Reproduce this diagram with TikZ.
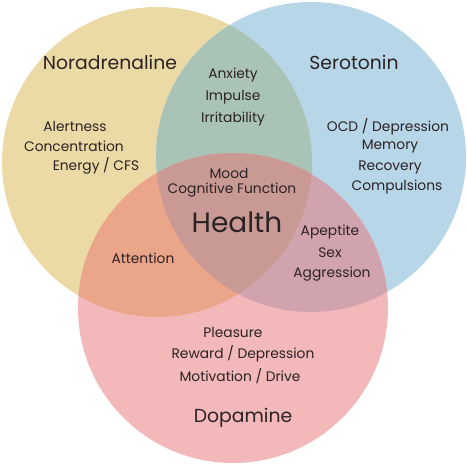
\documentclass[tikz,border=0pt]{standalone}
\usepackage{fontspec}
\setmainfont{Poppins}
\definecolor{cyel}{HTML}{EBDAA6}
\definecolor{cblu}{HTML}{B7D6E8}
\definecolor{cpnk}{HTML}{F2B8BA}
\definecolor{cgrn}{HTML}{A9C3B6}
\definecolor{corg}{HTML}{EBA68A}
\definecolor{cmau}{HTML}{D1A3AE}
\definecolor{cctr}{HTML}{C99A94}
\definecolor{ctxt}{HTML}{2B2224}
\tikzset{
  lbl/.style={text=ctxt, inner sep=0pt, font=\fontsize{13.8}{15}\selectfont},
  ttl/.style={text=ctxt, inner sep=0pt, font=\fontsize{18.8}{20}\selectfont},
}
\begin{document}
\begin{tikzpicture}[x=1pt,y=-1pt]
\useasboundingbox (0,0) rectangle (467,464);
\coordinate (L) at (157,162);
\coordinate (R) at (311,157);
\coordinate (B) at (233,308);
\def\rr{155}
\fill[cyel] (L) circle[radius=\rr];
\fill[cblu] (R) circle[radius=\rr];
\fill[cpnk] (B) circle[radius=\rr];
\begin{scope}
  \clip (L) circle[radius=\rr];
  \fill[cgrn] (R) circle[radius=\rr];
  \fill[corg] (B) circle[radius=\rr];
\end{scope}
\begin{scope}
  \clip (R) circle[radius=\rr];
  \fill[cmau] (B) circle[radius=\rr];
  \clip (L) circle[radius=\rr];
  \fill[cctr] (B) circle[radius=\rr];
\end{scope}

\node[ttl] (nor) at (110,62) {Noradrenaline};
\node[ttl] (ser) at (354,62) {Serotonin};
\node[ttl] (dop) at (243,418) {Dopamine};
\node[text=ctxt, inner sep=0pt, font=\fontsize{28}{30}\selectfont] (hea) at (237,222) {Health};

\node[lbl] (anx) at (233,75) {Anxiety};
\node[lbl] (imp) at (233,97) {Impulse};
\node[lbl] (irr) at (233,119) {Irritability};

\node[lbl] (ale) at (75,126) {Alertness};
\node[lbl] (con) at (74,146) {Concentration};
\node[lbl] (ene) at (96,166) {Energy / CFS};

\node[lbl] (ocd) at (388,127) {OCD / Depression};
\node[lbl] (mem) at (390,147) {Memory};
\node[lbl] (rec) at (390,167) {Recovery};
\node[lbl] (com) at (397,187) {Compulsions};

\node[lbl] (moo) at (229,173) {Mood};
\node[lbl] (cog) at (232,190) {Cognitive Function};

\node[lbl] (att) at (143,258) {Attention};

\node[lbl] (ape) at (330,232) {Apeptite};
\node[lbl] (sex) at (330,253) {Sex};
\node[lbl] (agg) at (332,274) {Aggression};

\node[lbl] (ple) at (233,332) {Pleasure};
\node[lbl] (rew) at (243,354) {Reward / Depression};
\node[lbl] (mot) at (240,376) {Motivation / Drive};
\end{tikzpicture}
\end{document}
